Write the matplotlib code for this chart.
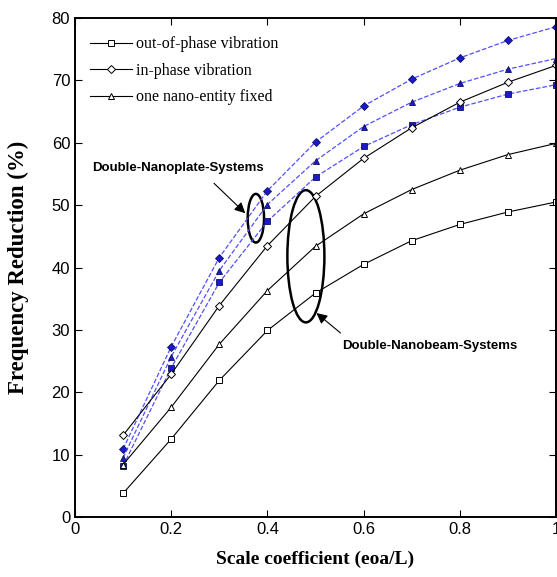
import numpy as np
import matplotlib.pyplot as plt
from matplotlib.patches import Ellipse

# data
scale = [0.1, 0.2, 0.3, 0.4, 0.5, 0.6, 0.7, 0.8, 0.9, 1.0]

# double-nanobeam systems (black, open markers)
beam_out = [3.8, 12.5, 21.9, 29.9, 35.9, 40.5, 44.3, 46.9, 48.9, 50.5]
beam_in = [13.1, 22.9, 33.9, 43.5, 51.4, 57.5, 62.4, 66.5, 69.7, 72.4]
beam_fix = [8.4, 17.6, 27.7, 36.3, 43.4, 48.6, 52.5, 55.6, 58.1, 59.9]

# double-nanoplate systems (blue, filled markers)
plate_out = [8.2, 23.9, 37.6, 47.4, 54.5, 59.4, 62.9, 65.7, 67.8, 69.3]
plate_in = [10.9, 27.3, 41.6, 52.3, 60.1, 65.9, 70.2, 73.6, 76.4, 78.6]
plate_fix = [9.5, 25.7, 39.5, 50.1, 57.1, 62.6, 66.5, 69.5, 71.8, 73.5]

labels = ['out-of-phase vibration', 'in-phase vibration', 'one nano-entity fixed']
xticks = [0, 0.2, 0.4, 0.6, 0.8, 1]
xticklabels = ['0', '0.2', '0.4', '0.6', '0.8', '1']
yticks = [0, 10, 20, 30, 40, 50, 60, 70, 80]

serif = ['Liberation Serif', 'DejaVu Serif']
sans = ['Liberation Sans', 'DejaVu Sans']

fig = plt.figure(figsize=(5.57, 5.77), dpi=100)
ax = fig.add_axes([75 / 557, 60 / 577, 481 / 557, 499 / 577])

blue_line = '#5050ff'
blue_face = '#1a1acc'
for ys, m in zip([plate_out, plate_in, plate_fix], ['s', 'D', '^']):
    ax.plot(scale, ys, color=blue_line, ls='--', lw=0.9, marker=m,
            ms=5 if m != 'D' else 4.5, mfc=blue_face, mec='#101060', mew=0.6)

for ys, m, lab in zip([beam_out, beam_in, beam_fix], ['s', 'D', '^'], labels):
    ax.plot(scale, ys, color='black', lw=0.8, marker=m,
            ms=5 if m != 'D' else 4.5, mfc='white', mec='black', mew=0.7, label=lab)

ax.set_xlim(0, 1)
ax.set_ylim(0, 80)
ax.set_xticks(xticks)
ax.set_xticklabels(xticklabels, family=sans, fontsize=12)
ax.set_yticks(yticks)
ax.set_yticklabels([str(v) for v in yticks], family=sans, fontsize=12)
ax.tick_params(direction='in', top=True, right=True, length=5, width=0.8)
for s in ax.spines.values():
    s.set_linewidth(1.4)

ax.set_xlabel('Scale coefficient (eoa/L)', family=serif, fontweight='bold', fontsize=14, labelpad=10)
ax.set_ylabel('Frequency Reduction (%)', family=serif, fontweight='bold', fontsize=16.5, labelpad=16)

leg = ax.legend(loc='upper left', frameon=False, prop={'family': serif, 'size': 11.5},
                handlelength=2.6, handletextpad=0.3, labelspacing=0.66,
                borderaxespad=0.3, bbox_to_anchor=(0.008, 0.986))

# ellipses grouping the curves
ax.add_patch(Ellipse((0.376, 47.9), 0.034, 7.8, fill=False, lw=1.8, ec='black'))
ax.add_patch(Ellipse((0.480, 41.8), 0.077, 21.2, fill=False, lw=1.8, ec='black'))

arrow = dict(arrowstyle='-|>', color='black', lw=0.8, mutation_scale=16, shrinkA=0, shrinkB=0)
ax.text(0.035, 56.0, 'Double-Nanoplate-Systems', fontsize=9.5, fontweight='bold',
        family=sans, va='center', ha='left')
ax.annotate('', xy=(0.354, 48.7), xytext=(0.289, 53.5), arrowprops=arrow)

ax.text(0.738, 27.4, 'Double-Nanobeam-Systems', fontsize=9.5, fontweight='bold',
        family=sans, va='center', ha='center')
ax.annotate('', xy=(0.502, 32.7), xytext=(0.552, 29.5), arrowprops=arrow)

plt.savefig('out.png', dpi=100)
